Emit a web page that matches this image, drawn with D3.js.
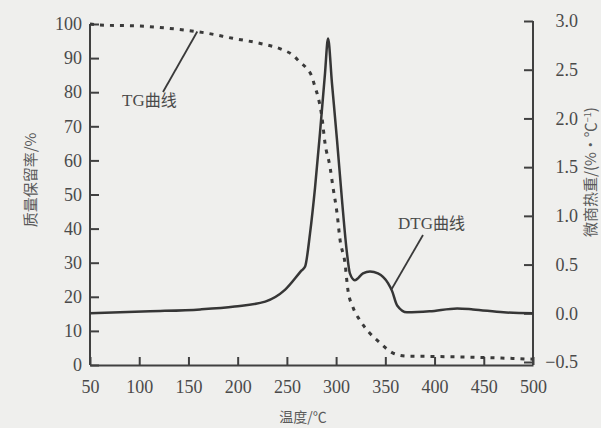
<html>
<head>
<meta charset="utf-8">
<script src="https://d3js.org/d3.v7.min.js"></script>
<style>
  body { margin: 0; background: #efefed; }
  svg { display: block; }
</style>
</head>
<body>
<svg id="chart" width="601" height="428"></svg>
<script>
// temperature (°C) and mass retention (%) for the TG curve
const tgTemp = [50, 60, 101, 141, 169, 195, 223, 246, 256, 263, 270, 275.5, 278.5, 281.6, 285.7, 288.7, 293.8, 296.8, 300.9, 304, 309, 312, 317, 324, 334, 344.6, 357.8, 372, 400, 450, 500];
const tgMass = [100, 99.7, 99.4, 98.4, 97.3, 95.8, 94.3, 92.4, 90.9, 88.9, 87.0, 84.5, 81.6, 78.7, 72.5, 65.1, 58.1, 52.2, 44.6, 36.7, 29.9, 22.0, 17.0, 13.2, 9.4, 6.5, 3.5, 2.6, 2.5, 2.2, 1.7];

// temperature (°C) and DTG (%/°C)
const dtgTemp = [50, 111, 162, 197, 228, 248, 265, 268.5, 273.5, 278.6, 283.6, 288.7, 291.8, 295.8, 300.9, 306, 311, 314, 319, 327.3, 334.4, 342.5, 352.7, 356.8, 362, 372, 395, 423, 439, 470, 500];
const dtgRate = [0.0, 0.02, 0.04, 0.07, 0.12, 0.24, 0.44, 0.48, 0.82, 1.29, 1.85, 2.46, 2.82, 2.36, 1.78, 1.16, 0.62, 0.41, 0.34, 0.41, 0.43, 0.41, 0.31, 0.23, 0.08, 0.01, 0.02, 0.05, 0.04, 0.01, 0.0];

const xTicks = [50, 100, 150, 200, 250, 300, 350, 400, 450, 500];
const leftTicks = [0, 10, 20, 30, 40, 50, 60, 70, 80, 90, 100];
const rightTicks = [-0.5, 0.0, 0.5, 1.0, 1.5, 2.0, 2.5, 3.0];

const serif = "'Times New Roman', 'Liberation Serif', Tinos, 'DejaVu Serif', 'Noto Serif', serif";
const cjk = "'Noto Sans CJK SC', sans-serif";

const svg = d3.select("svg#chart");
const x = d3.scaleLinear().domain([50, 500]).range([90, 533]);
const yL = d3.scaleLinear().domain([0, 100]).range([365, 24]);
const yR = d3.scaleLinear().domain([-0.5, 3.0]).range([362, 21]);

const axisColor = "#404040";

// axes
const gx = svg.append("g").attr("transform", "translate(0,365)")
  .call(d3.axisBottom(x).tickValues(xTicks).tickSizeInner(-8).tickSizeOuter(0).tickPadding(15).tickFormat(d3.format("d")));
const gl = svg.append("g").attr("transform", "translate(90,0)")
  .call(d3.axisLeft(yL).tickValues(leftTicks).tickSizeInner(-9).tickSizeOuter(0).tickPadding(8).tickFormat(d3.format("d")));
const gr = svg.append("g").attr("transform", "translate(533,0)")
  .call(d3.axisRight(yR).tickValues(rightTicks).tickSizeInner(-9).tickSizeOuter(0).tickPadding(45).tickFormat(d3.format(".1f")));

[gx, gl, gr].forEach(g => {
  g.attr("font-size", 18).attr("font-family", serif);
  g.select(".domain").attr("stroke", axisColor).attr("stroke-width", 2);
  g.selectAll(".tick line").attr("stroke", axisColor).attr("stroke-width", 2);
  g.selectAll(".tick text").attr("fill", "#4a4a4a").style("font-family", serif);
});
gr.selectAll(".tick text").attr("text-anchor", "end");
gr.select(".domain").attr("d", "M0,21V365");
gl.select(".domain").attr("d", "M0,24V365");

// curves
const tgData = tgTemp.map((t, i) => [t, tgMass[i]]);
const dtgData = dtgTemp.map((t, i) => [t, dtgRate[i]]);

svg.append("path").datum(tgData)
  .attr("fill", "none").attr("stroke", "#3a3a3a").attr("stroke-width", 3)
  .attr("stroke-dasharray", "4,6")
  .attr("d", d3.line().x(d => x(d[0])).y(d => yL(d[1])).curve(d3.curveMonotoneX));

svg.append("path").datum(dtgData)
  .attr("fill", "none").attr("stroke", "#363636").attr("stroke-width", 2.5)
  .attr("stroke-linejoin", "round")
  .attr("d", d3.line().x(d => x(d[0])).y(d => yR(d[1])).curve(d3.curveMonotoneX));

// annotations
svg.append("line").attr("x1", 163).attr("y1", 92).attr("x2", x(159)).attr("y2", yL(97.8))
  .attr("stroke", "#3a3a3a").attr("stroke-width", 1.8);
const ta = svg.append("text").attr("x", 122).attr("y", 106).attr("fill", "#4a4a4a").style("font-size", "17px");
ta.append("tspan").style("font-family", serif).text("TG");
ta.append("tspan").style("font-family", cjk).style("font-size", "16px").text("曲线");

svg.append("line").attr("x1", 423).attr("y1", 235).attr("x2", x(356.5)).attr("y2", yR(0.25))
  .attr("stroke", "#3a3a3a").attr("stroke-width", 1.8);
const tb = svg.append("text").attr("x", 398).attr("y", 229).attr("fill", "#4a4a4a").style("font-size", "17px");
tb.append("tspan").style("font-family", serif).text("DTG");
tb.append("tspan").style("font-family", cjk).style("font-size", "16px").text("曲线");

// axis titles
svg.append("text").attr("x", 303).attr("y", 422)
  .attr("fill", "#5a5a5a").style("font-family", cjk).style("font-size", "14px")
  .attr("text-anchor", "middle").text("温度/℃");
svg.append("text")
  .attr("transform", "translate(36,180) rotate(-90)")
  .attr("fill", "#5a5a5a").style("font-family", cjk).style("font-size", "15px")
  .attr("text-anchor", "middle").text("质量保留率/%");
const rt = svg.append("text")
  .attr("transform", "translate(596,172) rotate(-90)")
  .attr("fill", "#5a5a5a").style("font-family", cjk).style("font-size", "15px")
  .attr("text-anchor", "middle");
rt.append("tspan").text("微商热重/(%·℃");
rt.append("tspan").attr("dy", -5).style("font-size", "9px").text("−1");
rt.append("tspan").attr("dy", 5).text(")");
</script>
</body>
</html>
